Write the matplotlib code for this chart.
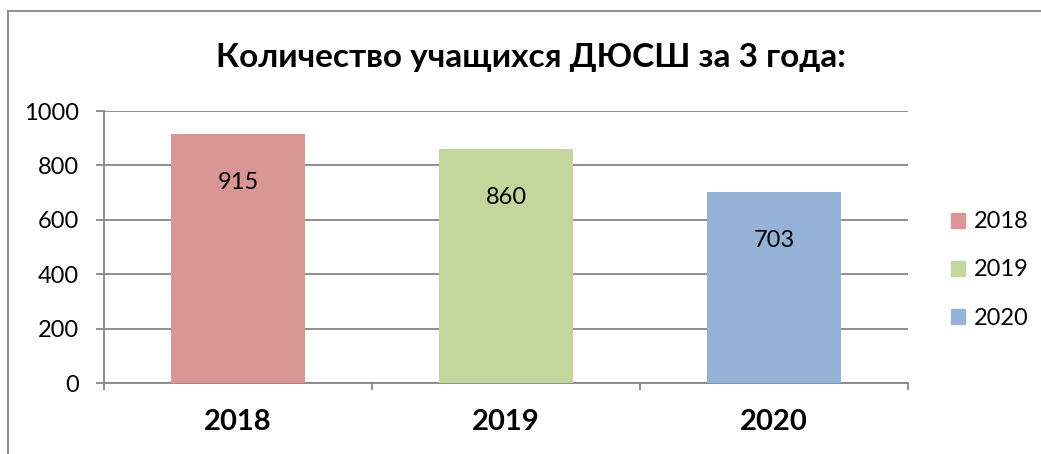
import matplotlib.pyplot as plt
from matplotlib.lines import Line2D
from matplotlib.patches import Patch

plt.rcParams['font.family'] = ['Lato', 'DejaVu Sans']

years = ['2018', '2019', '2020']
students = [915, 860, 703]
colors = ['#D99694', '#C3D69B', '#95B3D7']
yticks = [0, 200, 400, 600, 800, 1000]
grey = '#868686'

fig = plt.figure(figsize=(10.41, 4.54), dpi=100)
ax = fig.add_axes([104 / 1041, 1 - 383 / 454, 804 / 1041, 272 / 454])

x = list(range(len(years)))
ax.bar(x, students, width=0.5, color=colors, zorder=3)

for i, v in enumerate(students):
    ax.annotate(str(v), xy=(i, v), xytext=(0, -35), textcoords='offset points',
                ha='center', va='center', fontsize=17, zorder=4)

ax.set_xlim(-0.5, len(years) - 0.5)
ax.set_ylim(0, 1000)
ax.set_yticks(yticks)
ax.set_yticklabels([str(t) for t in yticks], fontsize=17)
ax.set_xticks(x)
ax.set_xticklabels(years, fontsize=21, fontweight='bold')
ax.set_xticks([i - 0.5 for i in range(len(years) + 1)], minor=True)

ax.grid(axis='y', color=grey, linewidth=1.3, zorder=0)
ax.tick_params(axis='y', length=6, width=1.3, color=grey, pad=12)
ax.tick_params(axis='x', which='major', length=0, pad=19)
ax.tick_params(axis='x', which='minor', length=5, width=1.3, color=grey, direction='out')

for s in ['top', 'right']:
    ax.spines[s].set_visible(False)
for s in ['left', 'bottom']:
    ax.spines[s].set_color(grey)
    ax.spines[s].set_linewidth(1.3)

fig.text(531 / 1041, 1 - 57 / 454, 'Количество учащихся ДЮСШ за 3 года:',
         ha='center', va='center', fontsize=24, fontweight='bold')

handles = [Patch(color=c) for c in colors]
fig.legend(handles, years, loc='center left', bbox_to_anchor=(951 / 1041, 1 - 270 / 454),
           frameon=False, fontsize=17, handlelength=0.6, handleheight=0.6,
           handletextpad=0.35, labelspacing=1.15, borderpad=0, borderaxespad=0)

# chart frame (left and top edges only visible)
fig.add_artist(Line2D([8 / 1041, 8 / 1041], [0, 1 - 11 / 454], transform=fig.transFigure,
                      color=grey, linewidth=1.3))
fig.add_artist(Line2D([8 / 1041, 1], [1 - 11 / 454, 1 - 11 / 454], transform=fig.transFigure,
                      color=grey, linewidth=1.3))

fig.savefig('out.png', dpi=100)
